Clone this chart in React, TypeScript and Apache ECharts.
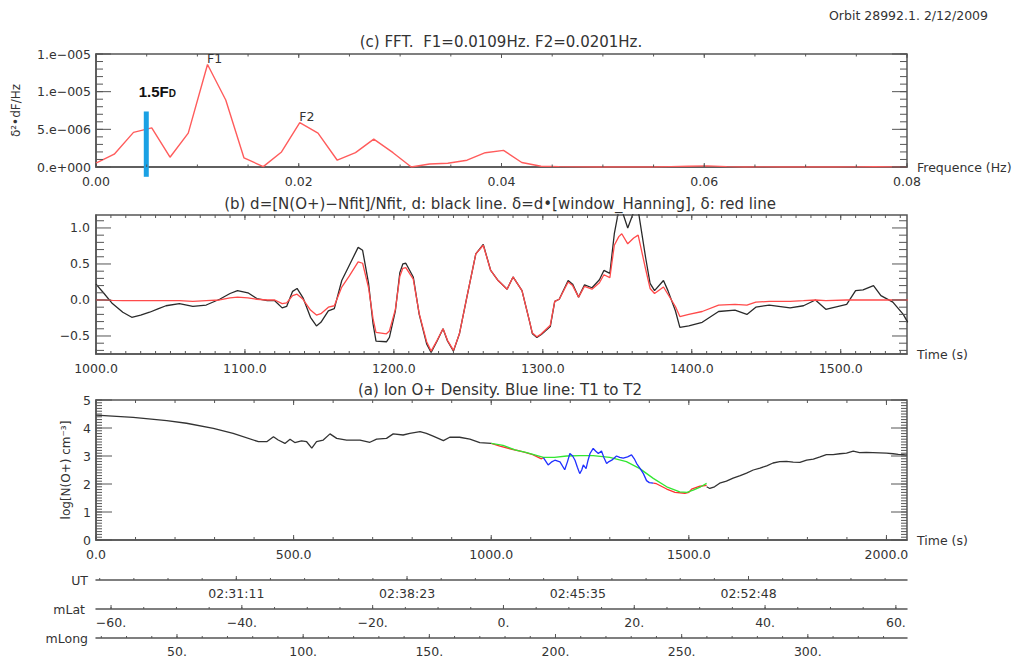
import React, { useEffect, useRef } from "react";
import * as echarts from "echarts";

// ---------- (c) FFT panel ----------
const fftFreq = [0.0, 0.0018, 0.0037, 0.0055, 0.0073, 0.0091, 0.011, 0.0128, 0.0146, 0.0165, 0.0183, 0.0201, 0.0219, 0.0238, 0.0256, 0.0274, 0.0293, 0.0311, 0.0329, 0.0347, 0.0366, 0.0384, 0.0402, 0.042, 0.0439, 0.0457, 0.0475, 0.0494, 0.0512, 0.053, 0.0548, 0.0567, 0.0585, 0.0603, 0.0622, 0.064, 0.0658, 0.0677, 0.0695, 0.0713, 0.0731, 0.075, 0.0768, 0.0786, 0.08];
const fftPower = [0.5e-6, 1.7e-6, 4.6e-6, 5.2e-6, 1.3e-6, 4.5e-6, 13.6e-6, 8.9e-6, 1.2e-6, 0.05e-6, 2.0e-6, 5.9e-6, 4.5e-6, 0.9e-6, 1.9e-6, 3.7e-6, 1.9e-6, 0.0, 0.4e-6, 0.5e-6, 0.9e-6, 1.9e-6, 2.2e-6, 0.6e-6, 0.1e-6, 0.05e-6, 0.02e-6, 0.0, 0.0, 0.02e-6, 0.0, 0.05e-6, 0.1e-6, 0.15e-6, 0.05e-6, 0.0, 0.02e-6, 0.0, 0.0, 0.0, 0.0, 0.02e-6, 0.05e-6, 0.02e-6, 0.0];
const fftPeakLabels = [{ name: "F1", index: 6 }, { name: "F2", index: 11 }];
const fdFreq = 0.00496;
const fdBar = [-1.3e-6, 7.37e-6];
const fftYTickLabels = ["0.e+000", "5.e\u2212006", "1.e\u2212005", "1.e\u2212005"];

// ---------- (b) d and delta panel ----------
const midTime = [1000, 1005, 1011, 1018, 1024, 1030, 1036, 1042, 1047, 1056, 1065, 1074, 1083, 1090, 1095, 1102, 1108, 1115, 1120, 1125, 1128, 1132, 1135, 1139, 1144, 1148, 1151, 1156, 1160, 1165, 1170, 1176, 1179, 1183, 1186, 1188, 1195, 1197, 1201, 1204, 1206, 1208, 1213, 1217, 1222, 1225, 1229, 1233, 1236, 1240, 1244, 1249, 1255, 1260, 1265, 1270, 1276, 1280, 1286, 1291, 1293, 1296, 1299, 1305, 1308, 1311, 1317, 1320, 1324, 1328, 1333, 1338, 1341, 1345, 1348, 1351, 1353, 1357, 1361, 1364, 1369, 1372, 1375, 1381, 1384, 1389, 1392, 1398, 1407, 1418, 1429, 1437, 1443, 1452, 1466, 1475, 1483, 1490, 1504, 1510, 1515, 1522, 1527, 1535, 1542, 1545];
const midBlack = [0.22, 0.1, -0.05, -0.17, -0.24, -0.21, -0.17, -0.12, -0.08, -0.05, -0.09, -0.07, 0.01, 0.09, 0.13, 0.1, 0.02, -0.01, -0.01, -0.11, -0.09, 0.12, 0.16, 0.03, -0.24, -0.36, -0.31, -0.15, -0.12, 0.27, 0.48, 0.73, 0.69, 0.23, -0.33, -0.57, -0.58, -0.52, -0.15, 0.38, 0.5, 0.51, 0.32, -0.2, -0.61, -0.73, -0.57, -0.4, -0.57, -0.71, -0.47, 0.04, 0.64, 0.77, 0.41, 0.27, 0.15, 0.32, 0.13, -0.29, -0.47, -0.52, -0.48, -0.37, -0.02, 0.01, 0.27, 0.22, 0.04, 0.21, 0.17, 0.28, 0.41, 0.37, 0.92, 1.25, 1.25, 1.0, 1.22, 1.25, 0.59, 0.23, 0.13, 0.27, 0.13, -0.15, -0.38, -0.36, -0.31, -0.16, -0.14, -0.2, -0.1, -0.07, -0.11, -0.08, 0.0, -0.13, -0.06, 0.13, 0.14, 0.2, 0.06, -0.03, -0.2, -0.31];
const midRed = [0.0, 0.0, -0.005, -0.01, -0.01, -0.01, -0.01, -0.01, -0.01, -0.01, -0.02, -0.01, 0.0, 0.03, 0.04, 0.03, 0.01, 0.0, 0.0, -0.05, -0.04, 0.06, 0.08, 0.01, -0.14, -0.21, -0.19, -0.1, -0.08, 0.18, 0.33, 0.53, 0.51, 0.17, -0.26, -0.45, -0.47, -0.43, -0.13, 0.33, 0.44, 0.45, 0.29, -0.19, -0.58, -0.71, -0.56, -0.4, -0.56, -0.7, -0.47, 0.04, 0.64, 0.76, 0.41, 0.27, 0.15, 0.32, 0.13, -0.29, -0.46, -0.51, -0.47, -0.35, -0.02, 0.01, 0.25, 0.2, 0.04, 0.19, 0.15, 0.24, 0.35, 0.31, 0.76, 0.88, 0.92, 0.78, 0.86, 0.9, 0.43, 0.16, 0.09, 0.18, 0.08, -0.09, -0.23, -0.2, -0.16, -0.07, -0.06, -0.07, -0.03, -0.02, -0.02, -0.01, 0.0, -0.01, 0.0, 0.0, 0.0, 0.0, 0.0, 0.0, 0.0, 0.0];
const midYMajor = [-0.5, 0.0, 0.5, 1.0];
const midYMinor = [-0.7, -0.6, -0.4, -0.3, -0.2, -0.1, 0.1, 0.2, 0.3, 0.4, 0.6, 0.7, 0.8, 0.9, 1.1];

// ---------- (a) density panel ----------
const denTime1 = [0, 94, 179, 229, 297, 347, 411, 432, 449, 461, 478, 491, 503, 520, 533, 546, 558, 575, 592, 609, 634, 668, 693, 710, 735, 752, 777, 794, 820, 836, 853, 879, 895, 920, 946, 971, 1000];
const denBlack1 = [4.46, 4.38, 4.26, 4.17, 3.99, 3.81, 3.51, 3.51, 3.69, 3.57, 3.45, 3.6, 3.48, 3.54, 3.51, 3.28, 3.51, 3.57, 3.79, 3.63, 3.57, 3.57, 3.49, 3.6, 3.63, 3.79, 3.75, 3.81, 3.87, 3.81, 3.71, 3.55, 3.67, 3.67, 3.6, 3.48, 3.45];
const denTimeRed1 = [1000, 1022, 1050, 1081, 1105, 1127, 1132];
const denRed1 = [3.45, 3.35, 3.25, 3.15, 3.05, 2.9, 2.94];
const denTimeBlue = [1132, 1144, 1152, 1161, 1174, 1186, 1193, 1199, 1206, 1212, 1218, 1224, 1229, 1233, 1240, 1245, 1250, 1258, 1264, 1271, 1279, 1285, 1292, 1298, 1305, 1317, 1325, 1334, 1345, 1355, 1362, 1368, 1377, 1385, 1393, 1400, 1410];
const denBlue = [2.94, 2.68, 2.78, 2.85, 2.79, 2.51, 2.8, 3.09, 3.0, 2.85, 2.6, 2.37, 2.5, 2.68, 2.55, 2.85, 3.09, 3.27, 3.18, 3.09, 3.18, 2.95, 2.73, 2.8, 2.85, 3.0, 2.95, 2.92, 2.97, 3.04, 2.9, 2.73, 2.55, 2.37, 2.12, 2.05, 2.03];
const denTimeRed2 = [1410, 1418, 1444, 1465, 1490, 1500, 1507, 1528, 1545];
const denRed2 = [2.03, 2.01, 1.82, 1.7, 1.67, 1.7, 1.82, 1.92, 1.95];
const denTimeGreen = [1000, 1030, 1060, 1090, 1132, 1160, 1191, 1225, 1258, 1300, 1342, 1376, 1410, 1444, 1477, 1495, 1511, 1530, 1545];
const denGreen = [3.45, 3.38, 3.22, 3.12, 2.95, 2.95, 3.0, 3.01, 3.01, 2.95, 2.8, 2.55, 2.2, 1.9, 1.72, 1.7, 1.78, 1.9, 2.02];
const denTime2 = [1545, 1553, 1565, 1578, 1595, 1612, 1630, 1646, 1663, 1680, 1697, 1713, 1730, 1747, 1764, 1781, 1798, 1815, 1832, 1848, 1865, 1882, 1899, 1916, 1932, 1949, 1966, 1983, 2000, 2017, 2030, 2042, 2052];
const denBlack2 = [1.9, 1.84, 1.9, 2.03, 2.1, 2.21, 2.3, 2.39, 2.5, 2.57, 2.65, 2.75, 2.8, 2.81, 2.78, 2.77, 2.85, 2.89, 2.97, 3.05, 3.05, 3.08, 3.1, 3.17, 3.12, 3.13, 3.12, 3.11, 3.1, 3.08, 3.06, 3.05, 3.03];

// ---------- ephemeris axes ----------
const timeMax = 2052;
const utTickTimes = [355, 787, 1219, 1651];
const utTickLabels = ["02:31:11", "02:38:23", "02:45:35", "02:52:48"];
const mLatRange = [-62.3, 61.7];
const mLatLabels = [-60, -40, -20, 0, 20, 40, 60];
const mLatMinorStep = 5;
const mLongRange = [17.9, 339.3];
const mLongLabels = [50, 100, 150, 200, 250, 300];
const mLongMinorStep = 10;

const AX = "#555";
const TX = "#333";
const FONT = "DejaVu Sans";

const pairs = (xs: number[], ys: number[]) => xs.map((x, i) => [x, ys[i]]);
const steps = (start: number, end: number, step: number) => {
  const out: number[] = [];
  const n = Math.floor((end - start) / step + 1e-6);
  for (let i = 0; i <= n; i++) out.push(start + i * step);
  return out;
};
const minus = (s: string) => s.replace("-", "\u2212");
const lbl = (extra: any = {}) => ({ color: TX, fontFamily: FONT, fontSize: 12.5, ...extra });

// tick marks drawn through the axes' own scales (custom series)
function ticks(xi: number, yi: number, vals: number[], dir: "x" | "y", len: number, other: number, sideA: boolean, sideB: boolean) {
  return {
    type: "custom", xAxisIndex: xi, yAxisIndex: yi, silent: true, z: 4, clip: false,
    data: vals.map((v) => (dir === "x" ? [v, other] : [other, v])),
    renderItem: (params: any, api: any) => {
      const cs = params.coordSys;
      const p = api.coord([api.value(0), api.value(1)]);
      const sh: any[] = [];
      if (dir === "x") {
        const bottom = cs.y + cs.height;
        if (sideA) sh.push({ x1: p[0], y1: bottom, x2: p[0], y2: bottom - len });
        if (sideB) sh.push({ x1: p[0], y1: cs.y, x2: p[0], y2: cs.y + len });
      } else {
        if (sideA) sh.push({ x1: cs.x, y1: p[1], x2: cs.x + len, y2: p[1] });
        if (sideB) sh.push({ x1: cs.x + cs.width, y1: p[1], x2: cs.x + cs.width - len, y2: p[1] });
      }
      return { type: "group", children: sh.map((shape) => ({ type: "line", shape, style: { stroke: AX, lineWidth: 1 } })) };
    },
  };
}

function panelX(gridIndex: number, min: number, max: number, interval: number, fmt: (v: number) => string, name: string, hideMax: boolean) {
  return {
    gridIndex, type: "value", min, max, interval, position: "bottom",
    axisLine: { show: true, onZero: false, lineStyle: { color: AX, width: 1.5 } },
    axisTick: { show: false },
    splitLine: { show: false },
    axisLabel: lbl({ margin: 8, formatter: fmt, showMaxLabel: !hideMax }),
    name, nameLocation: "end", nameGap: 10, nameTextStyle: lbl(),
  };
}

function buildOption() {
  const xAxis: any[] = [
    panelX(0, 0, 0.08, 0.02, (v) => v.toFixed(2), "Frequence (Hz)", false),
    panelX(1, 1000, 1544.5, 100, (v) => v.toFixed(1), "Time (s)", true),
    panelX(2, 0, timeMax, 500, (v) => v.toFixed(1), "Time (s)", true),
  ];
  const ephX = (gridIndex: number, min: number, max: number, majorVals: number[], fmt: (v: number) => string, name: string, nameGap: number, padBottom: number) => ({
    gridIndex, type: "value", min, max, position: "bottom",
    axisLine: { show: true, onZero: false, lineStyle: { color: AX, width: 1.5 } },
    axisTick: { show: false },
    axisLabel: lbl({ customValues: majorVals, formatter: fmt, margin: 7 }),
    splitLine: { show: false },
    name, nameLocation: "start", nameGap, nameTextStyle: lbl({ padding: [0, 0, padBottom, 0] }),
  });
  xAxis.push(
    ephX(3, 0, timeMax, utTickTimes, (v) => {
      const i = utTickTimes.findIndex((t) => Math.abs(t - v) < 0.5);
      return i >= 0 ? utTickLabels[i] : "";
    }, "UT", 8, 0),
    ephX(4, mLatRange[0], mLatRange[1], mLatLabels, (v) => minus(String(v)) + ".", "mLat", 11, 10),
    ephX(5, mLongRange[0], mLongRange[1], mLongLabels, (v) => String(v) + ".", "mLong", 8, 12),
  );

  const yBase = (extra: any) => ({
    type: "value", position: "left",
    axisLine: { show: true, onZero: false, lineStyle: { color: AX, width: 1.5 } },
    axisTick: { show: false },
    splitLine: { show: false },
    ...extra,
  });
  const yAxis: any[] = [
    yBase({
      gridIndex: 0, min: 0, max: 1.5e-5, interval: 5e-6,
      axisLabel: lbl({ margin: 5, formatter: (v: number) => fftYTickLabels[Math.round(v / 5e-6)] || "" }),
      name: "\u03b4\u00b2\u2022dF/Hz", nameLocation: "middle", nameRotate: 90, nameGap: 74, nameTextStyle: lbl({ fontSize: 12 }),
    }),
    yBase({
      gridIndex: 1, min: -0.75, max: 1.18,
      axisLabel: lbl({ margin: 6, customValues: midYMajor, formatter: (v: number) => minus(v.toFixed(1)) }),
    }),
    yBase({
      gridIndex: 2, min: 0, max: 5, interval: 1,
      axisLabel: lbl({ margin: 5 }),
      name: "log[N(O+) cm\u207b\u00b3]", nameLocation: "middle", nameRotate: 90, nameGap: 22, nameTextStyle: lbl({ fontSize: 12 }),
    }),
    { gridIndex: 3, type: "value", show: false, min: 0, max: 1 },
    { gridIndex: 4, type: "value", show: false, min: 0, max: 1 },
    { gridIndex: 5, type: "value", show: false, min: 0, max: 1 },
  ];

  const line = (xi: number, yi: number, data: any[], color: string, width: number, extra: any = {}) => ({
    type: "line", xAxisIndex: xi, yAxisIndex: yi, data, symbol: "none", showSymbol: false,
    lineStyle: { color, width }, itemStyle: { color }, z: 3, ...extra,
  });

  const utStep = (utTickTimes[1] - utTickTimes[0]) / 5;

  const series: any[] = [
    // FFT panel ticks
    ticks(0, 0, steps(0, 0.08, 0.02), "x", 4, 0, true, true),
    ticks(0, 0, steps(0, 0.08, 0.005), "x", 2.5, 0, true, true),
    ticks(0, 0, steps(0, 1.5e-5, 5e-6), "y", 15, 0, true, true),
    ticks(0, 0, steps(0, 1.5e-5, 1e-6), "y", 7, 0, true, true),
    // middle panel ticks
    ticks(1, 1, steps(1000, 1500, 100), "x", 5, 0, true, true),
    ticks(1, 1, steps(1010, 1540, 10), "x", 3, 0, true, true),
    ticks(1, 1, midYMajor, "y", 15, 1000, true, true),
    ticks(1, 1, midYMinor, "y", 8, 1000, true, true),
    // density panel ticks
    ticks(2, 2, steps(0, 2000, 500), "x", 5, 0, true, true),
    ticks(2, 2, steps(0, 2000, 100), "x", 3, 0, true, true),
    ticks(2, 2, steps(0, 5, 1), "y", 16, 0, true, true),
    ticks(2, 2, steps(0, 5, 0.1), "y", 6, 0, true, true),
    // ephemeris ticks (pointing up from each line)
    ticks(3, 3, steps(utTickTimes[0] - 4 * utStep, timeMax, utStep), "x", 2, 0, true, false),
    ticks(3, 3, utTickTimes, "x", 4, 0, true, false),
    ticks(4, 4, steps(mLatLabels[0], mLatLabels[mLatLabels.length - 1], mLatMinorStep), "x", 2, 0, true, false),
    ticks(4, 4, mLatLabels, "x", 4, 0, true, false),
    ticks(5, 5, steps(20, 330, mLongMinorStep), "x", 2, 0, true, false),
    ticks(5, 5, mLongLabels, "x", 4, 0, true, false),

    // data
    line(0, 0, pairs(fftFreq, fftPower), "#ff5c5c", 1.4, {
      markPoint: {
        symbol: "circle", symbolSize: 1, itemStyle: { color: "rgba(0,0,0,0)" },
        label: lbl({ show: true, position: "right", distance: 0, offset: [-1, -6], formatter: (p: any) => p.name }),
        data: fftPeakLabels.map((p) => ({ name: p.name, coord: [fftFreq[p.index], fftPower[p.index]] })),
      },
    }),
    line(0, 0, [[fdFreq, fdBar[0]], [fdFreq, fdBar[1]]], "#1aa1e4", 5, {
      clip: false,
      lineStyle: { color: "#1aa1e4", width: 5, cap: "butt" },
      markPoint: {
        symbol: "circle", symbolSize: 1, itemStyle: { color: "rgba(0,0,0,0)" },
        label: {
          show: true, position: "top", distance: 12, offset: [11, 0],
          formatter: "{a|1.5F}{b|D}",
          rich: {
            a: { fontFamily: "Liberation Sans", fontWeight: "bold", fontSize: 15, color: "#111", verticalAlign: "bottom" },
            b: { fontFamily: "Liberation Sans", fontWeight: "bold", fontSize: 10, color: "#111", verticalAlign: "bottom" },
          },
        },
        data: [{ name: "1.5FD", coord: [fdFreq, fdBar[1]] }],
      },
    }),
    line(1, 1, pairs(midTime, midBlack), "#2a2a2a", 1.3),
    line(1, 1, pairs(midTime, midRed), "#ff4a4a", 1.3),
    line(2, 2, pairs(denTime1, denBlack1), "#333", 1.3),
    line(2, 2, pairs(denTime2, denBlack2), "#333", 1.3),
    line(2, 2, pairs(denTimeRed1, denRed1), "#ff3030", 1.3),
    line(2, 2, pairs(denTimeRed2, denRed2), "#ff3030", 1.3),
    line(2, 2, pairs(denTimeGreen, denGreen), "#33e633", 1.3),
    line(2, 2, pairs(denTimeBlue, denBlue), "#2030ff", 1.3),
  ];

  const title = (text: string, x: number, y: number, align = "center", size = 15) => ({
    type: "text", x, y, silent: true,
    style: { text, align, verticalAlign: "middle", fontFamily: FONT, fontSize: size, fill: TX },
  });
  const box = { show: true, borderColor: AX, borderWidth: 1.5, backgroundColor: "transparent" };

  return {
    animation: false,
    backgroundColor: "#fff",
    textStyle: { fontFamily: FONT },
    grid: [
      { left: 96, top: 54, width: 811, height: 113, ...box },
      { left: 96, top: 215, width: 811, height: 139, ...box },
      { left: 96, top: 400, width: 811, height: 140, ...box },
      { left: 96, top: 579, width: 811, height: 1 },
      { left: 96, top: 608, width: 811, height: 1 },
      { left: 96, top: 637, width: 811, height: 1 },
    ],
    xAxis,
    yAxis,
    series,
    graphic: [
      title("Orbit 28992.1. 2/12/2009", 988, 15, "right", 12.5),
      title("(c) FFT.  F1=0.0109Hz. F2=0.0201Hz.", 501, 42),
      title("(b) d=[N(O+)\u2212Nfit]/Nfit, d: black line. \u03b4=d\u2022[window_Hanning], \u03b4: red line", 500, 204),
      title("(a) Ion O+ Density. Blue line: T1 to T2", 500, 390),
    ],
  };
}

export default function App() {
  const ref = useRef<HTMLDivElement>(null);
  useEffect(() => {
    if (!ref.current) return;
    const chart = echarts.init(ref.current, null, { renderer: "svg" });
    chart.setOption(buildOption() as any);
    return () => chart.dispose();
  }, []);
  return (
    <div
      ref={ref}
      style={{ position: "absolute", left: 0, top: 0, width: 1022, height: 662, background: "#fff" }}
    />
  );
}
